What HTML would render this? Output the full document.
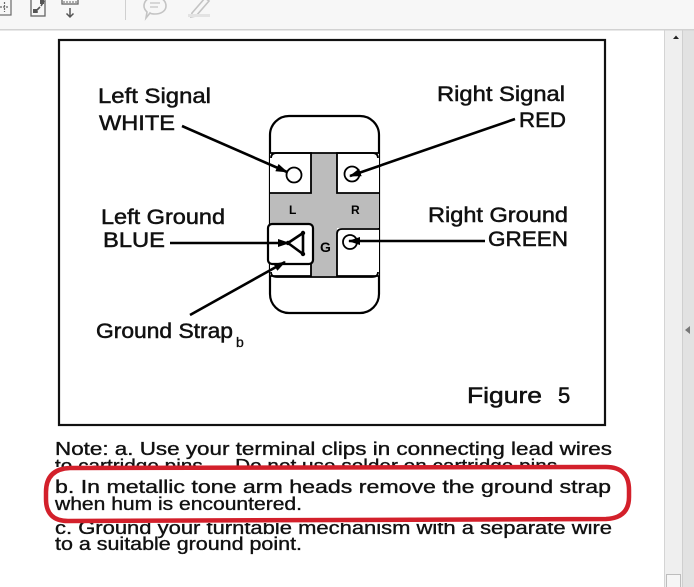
<!DOCTYPE html>
<html><head><meta charset="utf-8">
<style>
html,body{margin:0;padding:0;background:#fff;}
body{width:694px;height:587px;overflow:hidden;position:relative;font-family:"Liberation Sans",Arial,sans-serif;}
svg{position:absolute;left:0;top:0;}
</style></head>
<body>
<svg width="694" height="587" viewBox="0 0 694 587" xmlns="http://www.w3.org/2000/svg" font-family="'Liberation Sans', Arial, sans-serif">
<defs>
  <clipPath id="clipL2"><rect x="0" y="440" width="694" height="27"/></clipPath>
  <clipPath id="clipC"><rect x="0" y="523" width="694" height="20"/></clipPath>
  <marker id="ah" markerWidth="12" markerHeight="8" refX="11" refY="4" orient="auto" markerUnits="userSpaceOnUse">
    <path d="M0,0 L12,4 L0,8 Z" fill="#000"/>
  </marker>
</defs>

<!-- toolbar -->
<rect x="0" y="0" width="694" height="29" fill="#f7f7f7"/>
<rect x="0" y="29" width="694" height="1.5" fill="#d2d2d2"/>
<g stroke="#6a6a6a" stroke-width="1.2" fill="none">
  <rect x="-2" y="-2" width="13" height="17"/>
  <path d="M4.5,2 V12 M0,7 H9" stroke-dasharray="2 1"/>
</g>
<g stroke="#666" stroke-width="1.3" fill="none">
  <rect x="31" y="-2" width="14" height="18"/>
</g>
<path d="M35,12 L40,7 M35,12 V9 M35,12 H38 M41,6 L44,1" stroke="#555" stroke-width="1.6" fill="none"/>
<rect x="33" y="9" width="4" height="4" fill="#555"/>
<rect x="40" y="0" width="4" height="4" fill="#555"/>
<rect x="62" y="-2" width="16" height="6" fill="none" stroke="#666" stroke-width="1.3"/>
<path d="M64,1 V3 M67,1 V3 M70,1 V3 M73,1 V3 M76,1 V3" stroke="#666" stroke-width="1"/>
<path d="M70,8 V17 M66.5,13.5 L70,17 L73.5,13.5" stroke="#555" stroke-width="1.5" fill="none"/>
<rect x="125" y="0" width="1" height="20" fill="#d0d0d0"/>
<path d="M155,-3 C162,-3 166,1 166,6 C166,11 161,14 155,14 C153,14 151,14 150,13 L146,18 L147,12 C145,10 144,8 144,6 C144,1 148,-3 155,-3 Z" fill="none" stroke="#c4c4c4" stroke-width="1.6"/>
<path d="M150,3 H160 M150,7 H158" stroke="#c4c4c4" stroke-width="1.3"/>
<path d="M192,13 L205,-2 L209,1 L196,16 L191,17 Z" fill="none" stroke="#c4c4c4" stroke-width="1.6"/>
<rect x="188" y="14" width="22" height="3" fill="#e3e3e3"/>

<!-- scrollbar -->
<rect x="664" y="30.5" width="18" height="557" fill="#efefef"/>
<rect x="664" y="30.5" width="1" height="557" fill="#d4d4d4"/>
<rect x="682" y="30.5" width="12" height="557" fill="#e2e2e2"/>
<rect x="682" y="30.5" width="1" height="557" fill="#cfcfcf"/>
<path d="M673,39 L676,35.5 L679,39 Z" fill="#222"/>
<path d="M685,330 L690,326 L690,334 Z" fill="#777"/>
<rect x="666.5" y="574.5" width="14" height="14" fill="#f6f6f6" stroke="#bdbdbd"/>

<!-- figure frame -->
<rect x="59" y="40" width="546" height="385" fill="none" stroke="#111" stroke-width="2.2"/>

<!-- connector body -->
<rect x="270" y="116" width="109" height="197" rx="19" fill="#fff" stroke="#000" stroke-width="2.2"/>
<rect x="311" y="153" width="26" height="123" fill="#bcbcbc"/>
<rect x="270" y="193" width="109" height="35" fill="#bcbcbc"/>
<path d="M270,153 H311 V193 H270" fill="#fff" stroke="#000" stroke-width="1.8"/>
<path d="M379,153 H337 V193 H379" fill="#fff" stroke="#000" stroke-width="1.8"/>
<path d="M379,229 H342 Q337,229 337,234 V276 H379" fill="#fff" stroke="#000" stroke-width="1.8"/>
<path d="M270,262 H311 V276 H270" fill="#fff" stroke="#000" stroke-width="1.8"/>
<path d="M271,158 Q271,153 277,153 H372 Q378,153 378,158" fill="none" stroke="#000" stroke-width="1.8"/>
<path d="M271,272 Q271,277 277,277 H372 Q378,277 378,272" fill="none" stroke="#000" stroke-width="1.8"/>
<rect x="268" y="224" width="45" height="40" rx="4" fill="#fff" stroke="#000" stroke-width="2.2"/>
<circle cx="294" cy="175" r="7.5" fill="#fff" stroke="#000" stroke-width="1.8"/>
<circle cx="352" cy="174" r="7.5" fill="#fff" stroke="#000" stroke-width="1.8"/>
<circle cx="350" cy="242" r="7" fill="#fff" stroke="#000" stroke-width="1.8"/>
<path d="M288,243 L303,233 L303,254 Z" fill="#fff" stroke="#000" stroke-width="2.6" stroke-linejoin="round"/>
<circle cx="288" cy="243" r="2.2" fill="#000"/>
<circle cx="303" cy="233" r="2.2" fill="#000"/>
<circle cx="303" cy="254" r="2.2" fill="#000"/>
<text x="289" y="214" font-size="12" font-weight="bold">L</text>
<text x="351" y="214" font-size="12" font-weight="bold">R</text>
<text x="320" y="252" font-size="14" font-weight="bold">G</text>

<!-- arrows -->
<g stroke="#000" stroke-width="2.6" fill="none">
  <line x1="182" y1="126" x2="287" y2="172" marker-end="url(#ah)"/>
  <line x1="170" y1="243" x2="289" y2="243" marker-end="url(#ah)"/>
  <line x1="190" y1="315" x2="285" y2="262" marker-end="url(#ah)"/>
  <line x1="515" y1="119" x2="350" y2="176" marker-end="url(#ah)"/>
  <line x1="485" y1="241" x2="349" y2="241" marker-end="url(#ah)"/>
</g>

<!-- labels -->
<g font-size="21" fill="#111" stroke="#111" stroke-width="0.5">
  <text x="98" y="103" textLength="113" lengthAdjust="spacingAndGlyphs">Left Signal</text>
  <text x="99" y="130" textLength="76" lengthAdjust="spacingAndGlyphs">WHITE</text>
  <text x="101" y="224" textLength="124" lengthAdjust="spacingAndGlyphs">Left Ground</text>
  <text x="103" y="247" textLength="62" lengthAdjust="spacingAndGlyphs">BLUE</text>
  <text x="96" y="338" textLength="137" lengthAdjust="spacingAndGlyphs">Ground Strap</text>
  <text x="437" y="101" textLength="128" lengthAdjust="spacingAndGlyphs">Right Signal</text>
  <text x="519" y="127" textLength="47" lengthAdjust="spacingAndGlyphs">RED</text>
  <text x="428" y="222" textLength="140" lengthAdjust="spacingAndGlyphs">Right Ground</text>
  <text x="488" y="246" textLength="80" lengthAdjust="spacingAndGlyphs">GREEN</text>
  <text x="467" y="403" font-size="22" textLength="75" lengthAdjust="spacingAndGlyphs">Figure</text>
  <text x="558" y="403" font-size="22">5</text>
</g>
<text x="236" y="347" font-size="14" fill="#111" stroke="#111" stroke-width="0.3">b</text>

<!-- notes -->
<g font-size="18" fill="#111" stroke="#111" stroke-width="0.35">
  <text x="55" y="455" textLength="557" lengthAdjust="spacingAndGlyphs">Note: a. Use your terminal clips in connecting lead wires</text>
  <text x="55" y="472" textLength="508" lengthAdjust="spacingAndGlyphs" clip-path="url(#clipL2)">to cartridge pins — Do not use solder on cartridge pins.</text>
  <text x="55" y="534" textLength="557" lengthAdjust="spacingAndGlyphs" clip-path="url(#clipC)">c. Ground your turntable mechanism with a separate wire</text>
</g>
<path d="M70,468 L606,467 Q629,467 629,490 L629,497 Q629,518 606,519 L68,521 Q46,521 46,499 L46,492 Q46,469 70,468 Z" fill="#fff" stroke="#d3202b" stroke-width="4.5"/>
<g font-size="18" fill="#111" stroke="#111" stroke-width="0.35">
  <text x="55" y="493" textLength="556" lengthAdjust="spacingAndGlyphs">b. In metallic tone arm heads remove the ground strap</text>
  <text x="55" y="510" textLength="247" lengthAdjust="spacingAndGlyphs">when hum is encountered.</text>
  <text x="55" y="550" textLength="247" lengthAdjust="spacingAndGlyphs">to a suitable ground point.</text>
</g>
</svg>
</body></html>
